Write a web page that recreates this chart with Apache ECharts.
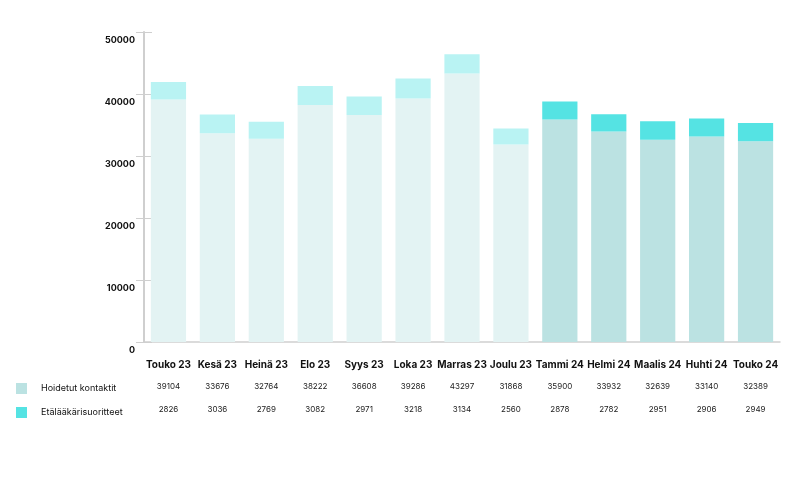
<!DOCTYPE html>
<html><head><meta charset="utf-8">
<script src="https://cdn.jsdelivr.net/npm/echarts@6/dist/echarts.min.js"></script>
<style>html,body{margin:0;padding:0;background:#fff}#c{width:795px;height:477px}</style>
</head><body><div id="c"></div>
<script>
const categories = ["Touko 23","Kesä 23","Heinä 23","Elo 23","Syys 23","Loka 23","Marras 23","Joulu 23","Tammi 24","Helmi 24","Maalis 24","Huhti 24","Touko 24"];
const hoidetut = [39104,33676,32764,38222,36608,39286,43297,31868,35900,33932,32639,33140,32389];
const etaa = [2826,3036,2769,3082,2971,3218,3134,2560,2878,2782,2951,2906,2949];
const yTicks = [0,10000,20000,30000,40000,50000];
const lightCount = 8;

const FONT = "Inter, 'Noto Sans', sans-serif";
const colBottomLight = '#E3F3F3', colBottomDark = '#BBE2E2';
const colTopLight = '#B9F3F3', colTopDark = '#55E3E3';

const chart = echarts.init(document.getElementById('c'));
const mk = (arr, light, dark) => arr.map((v,i)=>({value:v,itemStyle:{color: i<lightCount?light:dark}}));
const axisGray = '#cfcfcf';
chart.setOption({
  animation:false,
  textStyle:{fontFamily:FONT},
  grid:{left:144,right:15,top:32,bottom:135},
  legend:{orient:'vertical',left:11,top:378,itemWidth:11,itemHeight:11,itemGap:13,icon:'rect',
    textStyle:{fontFamily:FONT,fontSize:9,color:'#111',padding:[0,0,0,9]},
    data:['Hoidetut kontaktit','Etälääkärisuoritteet']},
  xAxis:[
    {type:'category',data:categories,
     axisLine:{lineStyle:{color:axisGray,width:1.5}},
     axisTick:{inside:true,length:7,lineStyle:{color:axisGray}},
     axisLabel:{margin:18,fontSize:10,fontWeight:'bold',color:'#111',fontFamily:FONT,interval:0}},
    {type:'category',data:hoidetut.map(String),position:'bottom',
     axisLine:{show:false},axisTick:{show:false},
     axisLabel:{margin:41,fontSize:8,color:'#222',fontFamily:FONT,interval:0}},
    {type:'category',data:etaa.map(String),position:'bottom',
     axisLine:{show:false},axisTick:{show:false},
     axisLabel:{margin:64,fontSize:8,color:'#222',fontFamily:FONT,interval:0}}
  ],
  yAxis:[
    {type:'value',min:yTicks[0],max:yTicks[yTicks.length-1],interval:10000,
     splitLine:{show:false},
     axisLine:{show:true,lineStyle:{color:axisGray,width:2}},
     axisTick:{show:true,length:8,lineStyle:{color:axisGray}},
     axisLabel:{margin:9,fontSize:9,fontWeight:'bold',color:'#111',fontFamily:FONT,
       verticalAlign:'top',lineHeight:16,formatter:v=>String(v)}},
    {type:'value',min:yTicks[0],max:yTicks[yTicks.length-1],interval:10000,
     splitLine:{show:false},
     axisLine:{show:false},
     axisTick:{show:true,inside:true,length:8,lineStyle:{color:axisGray}},
     axisLabel:{show:false},position:'left'}
  ],
  series:[
    {name:'Hoidetut kontaktit',type:'bar',stack:'a',barWidth:'72%',color:colBottomDark,
     data:mk(hoidetut,colBottomLight,colBottomDark)},
    {name:'Etälääkärisuoritteet',type:'bar',stack:'a',barWidth:'72%',color:colTopDark,
     data:mk(etaa,colTopLight,colTopDark)}
  ]
});
</script></body></html>
